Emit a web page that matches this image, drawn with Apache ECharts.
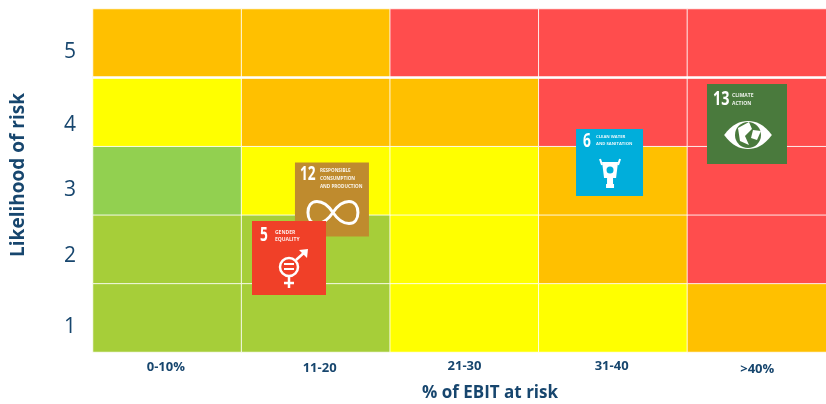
<!DOCTYPE html>
<html>
<head>
<meta charset="utf-8">
<style>
html, body { margin: 0; padding: 0; background: #fff; }
#chart { width: 826px; height: 404px; }
</style>
<script src="https://cdn.jsdelivr.net/npm/echarts@6/dist/echarts.min.js"></script>
</head>
<body>
<div id="chart"></div>
<script>
// x bands and y bands of the risk matrix
var ebitBands = ['0-10%', '11-20', '21-30', '31-40', '>40%'];
var likelihoods = ['1', '2', '3', '4', '5'];

// risk level per cell, bottom row first (0 low green ... 4 red)
var riskRow1 = [1, 1, 2, 2, 3];
var riskRow2 = [1, 1, 2, 3, 4];
var riskRow3 = [0, 2, 2, 3, 4];
var riskRow4 = [2, 3, 3, 4, 4];
var riskRow5 = [3, 3, 4, 4, 4];
var riskRows = [riskRow1, riskRow2, riskRow3, riskRow4, riskRow5];

// the labels do not sit exactly on the band centres in the original
var ebitLabelAt = [0.49, 1.525, 2.5, 3.49, 4.47];
var likelihoodLabelAt = [0.36, 1.4, 2.36, 3.31, 4.37];

// SDG goals placed on the matrix (drawn in this order)
var sdgGoals = [12, 5, 6, 13];
var sdgEbit = [1.608, 1.319, 3.476, 4.401];
var sdgLikelihood = [2.223, 1.37, 2.762, 3.324];

var riskColors = ['#92D050', '#A6CE39', '#FFFF00', '#FFC000', '#FF4D4D'];
var navy = '#17466E';
var font = '"Open Sans", sans-serif';

function caption(x, y, lines, size, lineHeight) {
	return lines.map(function (line, i) {
		return {
			type: 'text',
			style: { x: x, y: y + i * lineHeight, text: line, fill: 'rgba(255,255,255,0.9)', font: 'bold ' + size + 'px ' + font }
		};
	});
}
// goal numbers are tall and narrow on the SDG tiles
function number(x, y, text, size) {
	return {
		type: 'text',
		x: x,
		y: y,
		scaleX: 0.72,
		style: { text: text, fill: '#fff', font: 'bold ' + size + 'px ' + font }
	};
}

var icons = {
	5: {
		side: 74, color: '#F04028',
		parts: function () {
			return [number(8, 5, '5', 19)].concat(caption(23, 9, ['GENDER', 'EQUALITY'], 5, 7), [
				{ type: 'circle', shape: { cx: 37, cy: 46, r: 9 }, style: { fill: 'none', stroke: '#fff', lineWidth: 2.5 } },
				{ type: 'rect', shape: { x: 32, y: 42, width: 10, height: 2 }, style: { fill: '#fff' } },
				{ type: 'rect', shape: { x: 32, y: 47, width: 10, height: 2 }, style: { fill: '#fff' } },
				{ type: 'line', shape: { x1: 37, y1: 55, x2: 37, y2: 67 }, style: { stroke: '#fff', lineWidth: 2.5 } },
				{ type: 'line', shape: { x1: 32, y1: 62, x2: 42, y2: 62 }, style: { stroke: '#fff', lineWidth: 2.5 } },
				{ type: 'line', shape: { x1: 44, y1: 39, x2: 54, y2: 30 }, style: { stroke: '#fff', lineWidth: 2.5 } },
				{ type: 'polygon', shape: { points: [[47, 29], [56, 28], [55, 37]] }, style: { fill: '#fff' } }
			]);
		}
	},
	12: {
		side: 74, color: '#BF8B2E',
		parts: function () {
			return [number(5, 3, '12', 19)].concat(caption(25, 6, ['RESPONSIBLE', 'CONSUMPTION', 'AND PRODUCTION'], 4.6, 8), [
				{
					type: 'path',
					shape: { pathData: 'M38 50 C32 41 26 39 22 39 C16 39 13 44 13 50 C13 56 16 61 22 61 C26 61 32 59 38 50 C44 41 50 39 54 39 C60 39 63 44 63 50 C63 56 60 61 54 61 C50 61 44 59 38 50 Z', layout: 'center', x: 13, y: 39, width: 50, height: 22 },
					style: { fill: 'none', stroke: '#fff', lineWidth: 3 }
				}
			]);
		}
	},
	6: {
		side: 67, color: '#00AEDB',
		parts: function () {
			return [number(7, 3, '6', 19)].concat(caption(20, 6, ['CLEAN WATER', 'AND SANITATION'], 4.2, 7), [
				{ type: 'polygon', shape: { points: [[26, 33], [42, 33], [40, 49], [28, 49]] }, style: { fill: '#fff' } },
				{ type: 'line', shape: { x1: 26, y1: 36, x2: 24, y2: 30 }, style: { stroke: '#fff', lineWidth: 2 } },
				{ type: 'line', shape: { x1: 42, y1: 36, x2: 44, y2: 30 }, style: { stroke: '#fff', lineWidth: 2 } },
				{ type: 'circle', shape: { cx: 34, cy: 41, r: 3.5 }, style: { fill: '#00AEDB' } },
				{ type: 'rect', shape: { x: 31, y: 49, width: 6, height: 6 }, style: { fill: '#fff' } },
				{ type: 'rect', shape: { x: 30, y: 55, width: 8, height: 4 }, style: { fill: '#fff' } }
			]);
		}
	},
	13: {
		side: 80, color: '#4A7A3D',
		parts: function () {
			return [number(6, 5, '13', 20)].concat(caption(25, 9, ['CLIMATE', 'ACTION'], 5, 8), [
				{
					type: 'path',
					shape: { pathData: 'M12 51 C22 38 31 34 41 34 C51 34 60 38 70 51 C60 64 51 68 41 68 C31 68 22 64 12 51 Z', layout: 'center', x: 12, y: 37, width: 58, height: 28 },
					style: { fill: '#fff' }
				},
				{ type: 'circle', shape: { cx: 41, cy: 51, r: 13 }, style: { fill: '#4A7A3D' } },
				{ type: 'polygon', shape: { points: [[31, 44], [42, 38], [45, 45], [38, 52], [42, 61], [33, 57]] }, style: { fill: '#fff' } },
				{ type: 'polygon', shape: { points: [[46, 46], [54, 47], [50, 56], [44, 54]] }, style: { fill: '#fff' } }
			]);
		}
	}
};

var cells = [];
riskRows.forEach(function (row, y) {
	row.forEach(function (level, x) {
		cells.push({ value: [x, y, level], itemStyle: { color: riskColors[level] } });
	});
});

var myChart = echarts.init(document.getElementById('chart'));
myChart.setOption({
	animation: false,
	grid: { left: 93, top: 9, width: 743, height: 343, outerBoundsMode: 'none' },
	xAxis: [
		{ type: 'category', data: ebitBands, show: false },
		{
			type: 'value', min: 0, max: 5, position: 'bottom',
			splitLine: { show: false }, axisLine: { show: false }, axisTick: { show: false },
			axisLabel: {
				customValues: ebitLabelAt,
				margin: 8,
				hideOverlap: false,
				color: navy,
				formatter: function (v) {
					var i = ebitLabelAt.indexOf(v);
					return '{l' + i + '|' + ebitBands[i] + '}';
				},
				rich: {
					l0: { fontFamily: font, fontWeight: 'bold', fontSize: 13, color: navy, padding: [1, 0, 0, 0] },
					l1: { fontFamily: font, fontWeight: 'bold', fontSize: 13, color: navy, padding: [2, 0, 0, 0] },
					l2: { fontFamily: font, fontWeight: 'bold', fontSize: 13, color: navy },
					l3: { fontFamily: font, fontWeight: 'bold', fontSize: 13, color: navy },
					l4: { fontFamily: font, fontWeight: 'bold', fontSize: 13, color: navy, padding: [3, 0, 0, 0] }
				}
			}
		}
	],
	yAxis: [
		{ type: 'category', data: likelihoods, show: false },
		{
			type: 'value', min: 0, max: 5, position: 'left',
			splitLine: { show: false }, axisLine: { show: false }, axisTick: { show: false },
			axisLabel: {
				customValues: likelihoodLabelAt,
				margin: 17,
				color: navy,
				fontFamily: font,
				fontSize: 21,
				formatter: function (v) {
					return likelihoods[likelihoodLabelAt.indexOf(v)];
				}
			}
		}
	],
	graphic: [
		{
			type: 'text', x: 490, y: 393,
			style: { text: '% of EBIT at risk', fill: navy, font: 'bold 17px ' + font, textAlign: 'center', textVerticalAlign: 'middle' }
		},
		{
			type: 'text', x: 19, y: 175, rotation: Math.PI / 2,
			style: { text: 'Likelihood of risk', fill: navy, font: 'bold 19px ' + font, textAlign: 'center', textVerticalAlign: 'middle' }
		}
	],
	series: [
		{
			type: 'heatmap',
			data: cells,
			xAxisIndex: 0,
			yAxisIndex: 0,
			itemStyle: { borderColor: 'rgba(255,255,255,0.85)', borderWidth: 1 },
			emphasis: { disabled: true }
		},
		{
			type: 'custom',
			xAxisIndex: 1,
			yAxisIndex: 1,
			z: 5,
			clip: false,
			data: sdgGoals.map(function (goal, i) {
				return [sdgEbit[i], sdgLikelihood[i], goal];
			}),
			encode: { x: 0, y: 1 },
			renderItem: function (params, api) {
				var icon = icons[api.value(2)];
				var pos = api.coord([api.value(0), api.value(1)]);
				return {
					type: 'group',
					x: pos[0] - icon.side / 2,
					y: pos[1] - icon.side / 2,
					children: [{
						type: 'rect',
						shape: { x: 0, y: 0, width: icon.side, height: icon.side },
						style: { fill: icon.color }
					}].concat(icon.parts())
				};
			},
			markLine: {
				silent: true,
				symbol: 'none',
				label: { show: false },
				lineStyle: { color: '#fff', width: 2.5, type: 'solid' },
				data: [{ yAxis: 4 }]
			}
		}
	]
});
</script>
</body>
</html>
